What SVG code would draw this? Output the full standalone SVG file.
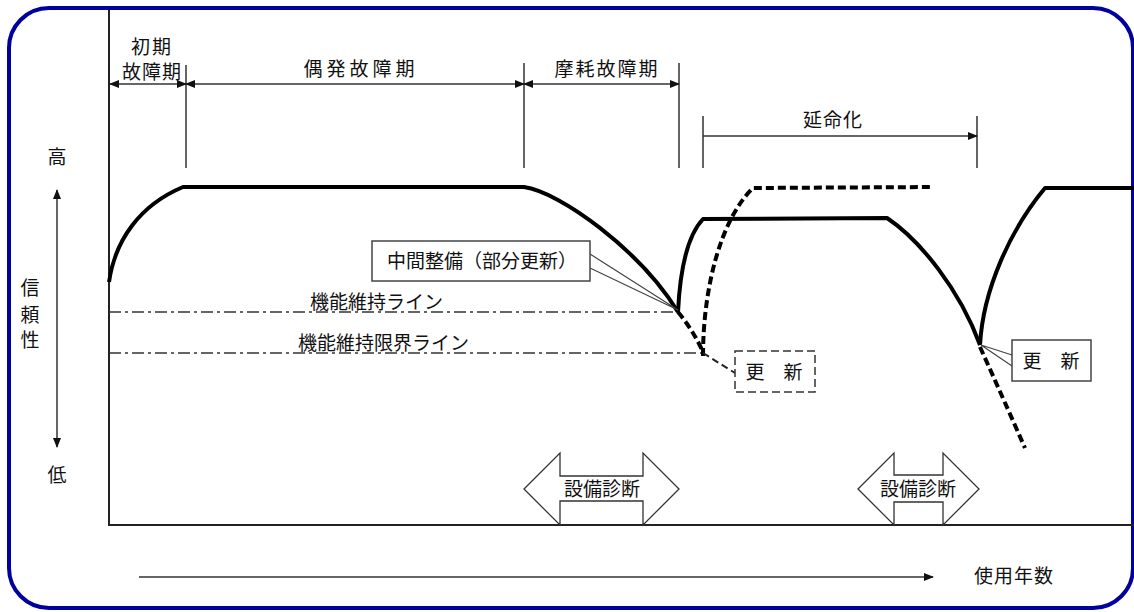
<svg xmlns="http://www.w3.org/2000/svg" width="1134" height="612" viewBox="0 0 1134 612">
<style>
text{font-family:"Noto Sans CJK JP","Noto Sans",sans-serif;fill:#111;font-size:19px}
.thin{fill:none;stroke:#333;stroke-width:1.5}
.axis{fill:none;stroke:#222;stroke-width:2}
.curve{fill:none;stroke:#000;stroke-width:4;stroke-linejoin:round}
.dash{fill:none;stroke:#000;stroke-width:4;stroke-dasharray:8 4}
.dd{fill:none;stroke:#333;stroke-width:1.3;stroke-dasharray:12 4 3 4}
.box{fill:#fff;stroke:#444;stroke-width:1.5}
.dbox{fill:#fff;stroke:#333;stroke-width:1.5;stroke-dasharray:8 4}
.big{fill:#fff;stroke:#333;stroke-width:1.3}
</style>
<defs>
<marker id="ah" markerUnits="userSpaceOnUse" markerWidth="10" markerHeight="8" refX="9" refY="4" orient="auto-start-reverse">
<path d="M0,0 L10,4 L0,8 z" fill="#111"/>
</marker>
</defs>
<rect x="9" y="8" width="1124" height="600" rx="40" fill="#fff" stroke="#00009c" stroke-width="4"/>

<g id="axes">
<path class="axis" d="M109,10 L109,525 L1134,525"/>
<path class="thin" d="M57,190 L57,447" marker-start="url(#ah)" marker-end="url(#ah)"/>
<path class="thin" d="M139,577 L933,577" marker-end="url(#ah)"/>
<text x="57" y="164" text-anchor="middle">高</text>
<text x="57" y="482" text-anchor="middle">低</text>
<text x="30" y="295" text-anchor="middle">信</text>
<text x="30" y="322" text-anchor="middle">頼</text>
<text x="30" y="347" text-anchor="middle">性</text>
<text x="1014" y="583" text-anchor="middle" font-size="20" letter-spacing="1">使用年数</text>
</g>

<g id="periods">
<path class="thin" d="M186,65 L186,168 M524,63 L524,168 M679,63 L679,168 M703,116 L703,168 M977,116 L977,168"/>
<path class="thin" d="M110,84 L186,84" marker-start="url(#ah)" marker-end="url(#ah)"/>
<path class="thin" d="M186,84 L524,84" marker-start="url(#ah)" marker-end="url(#ah)"/>
<path class="thin" d="M524,84 L679,84" marker-start="url(#ah)" marker-end="url(#ah)"/>
<path class="thin" d="M703,136 L977,136" marker-end="url(#ah)"/>
<text x="152" y="54" text-anchor="middle" letter-spacing="2">初期</text>
<text x="152" y="79" text-anchor="middle" letter-spacing="1">故障期</text>
<text x="361" y="76" text-anchor="middle" letter-spacing="4">偶発故障期</text>
<text x="607" y="76" text-anchor="middle" letter-spacing="2">摩耗故障期</text>
<text x="833" y="127" text-anchor="middle" letter-spacing="1">延命化</text>
</g>

<g id="lines">
<path class="dd" d="M109,312 L678,312"/>
<path class="dd" d="M109,353 L703,353"/>
<text x="310" y="309" font-size="19.5">機能維持ライン</text>
<text x="298" y="350" font-size="20">機能維持限界ライン</text>
</g>

<g id="curves">
<path class="curve" d="M109,282 C115,240 140,205 183,187 L524,187 C560,192 640,250 678,312"/>
<path class="curve" d="M678,312 C680,270 688,235 703,219 L887,218 C920,240 960,290 980,345"/>
<path class="curve" d="M980,345 C983,290 1010,230 1045,188 L1134,188"/>
<path class="dash" d="M678,312 Q693,330 703,352"/>
<path class="dash" d="M703,356 C703,290 720,220 753,188 L933,187"/>
<path class="dash" d="M980,347 Q995,380 1025,448"/>
<path fill="none" stroke="#222" stroke-width="2" stroke-dasharray="7 4" d="M703,353 L735,373"/>
</g>

<g id="callout-mid">
<path fill="none" stroke="#444" stroke-width="1.2" d="M590,254 L678,310 L590,268"/>
<rect class="box" x="372" y="241" width="218" height="40"/>
<text x="482" y="268" text-anchor="middle">中間整備（部分更新）</text>
</g>

<g id="renew-dashed">
<rect class="dbox" x="735" y="351" width="80" height="41"/>
<text x="774" y="379" text-anchor="middle">更　新</text>
</g>

<g id="renew">
<path fill="none" stroke="#444" stroke-width="1.2" d="M1012,355 L981,345 L1012,366"/>
<rect class="box" x="1012" y="340" width="79" height="41"/>
<text x="1051" y="368" text-anchor="middle">更　新</text>
</g>

<g id="diag1">
<polygon class="big" points="524,489 560,453 560,476 643,476 643,453 679,489 643,525 643,501 560,501 560,525"/>
<text x="602" y="496" text-anchor="middle" font-size="20">設備診断</text>
</g>
<g id="diag2">
<polygon class="big" points="858,489 894,453 894,475 943,475 943,453 979,489 943,525 943,502 894,502 894,525"/>
<text x="918" y="496" text-anchor="middle" font-size="21">設備診断</text>
</g>
</svg>
